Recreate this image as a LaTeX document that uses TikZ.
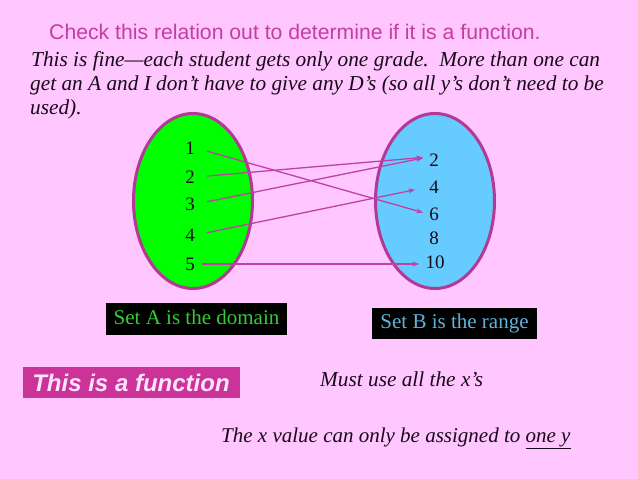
\documentclass[tikz,border=0pt]{standalone}
\usepackage{fontspec}
\setmainfont{Liberation Serif}
\setsansfont{Liberation Sans}
\usetikzlibrary{shapes.geometric,arrows.meta}
\definecolor{bgpink}{RGB}{255,198,255}
\definecolor{titlemag}{RGB}{196,62,160}
\definecolor{rim}{RGB}{178,58,150}
\definecolor{arrowmag}{RGB}{190,66,165}
\definecolor{setgreen}{RGB}{0,255,0}
\definecolor{setblue}{RGB}{102,204,255}
\definecolor{labgreen}{RGB}{51,204,51}
\definecolor{labblue}{RGB}{96,178,220}
\definecolor{funcbox}{RGB}{204,51,153}
\definecolor{functext}{RGB}{255,228,255}
\definecolor{inkdark}{RGB}{24,10,24}
\begin{document}
\begin{tikzpicture}[x=1pt,y=-1pt,
	setshape/.style={ellipse, draw=rim, line width=3pt, minimum width=119pt, minimum height=175pt},
	num/.style={inner sep=1pt, text=inkdark, font=\fontsize{19}{19}\selectfont},
	labelbox/.style={fill=black, inner sep=0pt, text height=14pt, text depth=4pt, font=\fontsize{21}{21}\selectfont},
	prose/.style={inner sep=0pt, anchor=base west, text=inkdark, font=\fontsize{21.3}{25}\selectfont\itshape},
	map/.style={draw=arrowmag, line width=1.3pt, shorten <=11pt, shorten >=5pt, -{Stealth[length=7pt,width=5pt]}}]
	\fill[bgpink] (0,0) rectangle (638,479);
	\useasboundingbox (0,0) rectangle (638,479);

	\node (title) [inner sep=0pt, anchor=base west, text=titlemag, font=\fontsize{21.2}{21}\selectfont\sffamily] at (49,39.5) {Check this relation out to determine if it is a function.};
	\node (line1) [prose] at (31,66.5) {This is fine—each student gets only one grade.\ \ More than one can};
	\node (line2) [prose] at (30,90.5) {get an A and I don’t have to give any D’s (so all y’s don’t need to be};
	\node (line3) [prose] at (30,114) {used).};

	\node (setA) [setshape, fill=setgreen] at (193,201) {};
	\node (setB) [setshape, fill=setblue] at (435,201) {};

	\node (a1) [num] at (190,148) {1};
	\node (a2) [num] at (190,177) {2};
	\node (a3) [num] at (190,204) {3};
	\node (a4) [num] at (190,235) {4};
	\node (a5) [num] at (190,264) {5};
	\node (b2) [num] at (434,160) {2};
	\node (b4) [num] at (434,187) {4};
	\node (b6) [num] at (434,214) {6};
	\node (b8) [num] at (434,238) {8};
	\node (b10) [num] at (435,262) {10};

	\draw [map] (a1.east) -- (b6.west);
	\draw [map] (a2.east) -- ([yshift=3pt]b2.west);
	\draw [map] (a3.east) -- ([yshift=3pt]b2.west);
	\draw [map, shorten >=13pt] (a4.east) -- (b4.west);
	\draw [map, shorten <=6pt] (a5.east) -- (a5.east -| b10.west);

	\node (domain) [labelbox, text=labgreen, minimum width=181pt, minimum height=32pt] at (196.5,319) {Set A is the domain};
	\node (range) [labelbox, text=labblue, minimum width=165pt, minimum height=31pt] at (454.5,323.5) {Set B is the range};

	\node (verdict) [fill=funcbox, inner sep=0pt, minimum width=217pt, minimum height=31pt, text=functext, text height=17pt, text depth=0pt, font=\fontsize{24}{24}\selectfont\sffamily\bfseries\itshape] at (131,382.5) {This is a function};
	\node (allx) [prose] at (320,386) {Must use all the x’s};
	\node (oney) [prose, font=\fontsize{21}{25}\selectfont\itshape] at (221,442) {The x value can only be assigned to \underline{one y}};
\end{tikzpicture}
\end{document}
